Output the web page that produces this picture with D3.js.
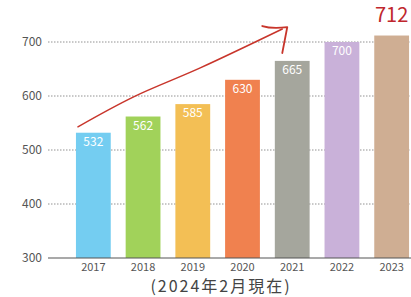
<!DOCTYPE html>
<html><head><meta charset="utf-8">
<script src="https://cdn.jsdelivr.net/npm/d3@7"></script>
<style>body{margin:0;background:#fff}svg{display:block}</style>
</head><body>
<svg id="c" width="411" height="297"></svg>
<script>
const years = ["2017","2018","2019","2020","2021","2022","2023"];
const values = [532, 562, 585, 630, 665, 700, 712];
const colors = ["#74cdf1","#a1d25a","#f3bf55","#f0814f","#a5a69d","#c9b1d9","#cfae93"];
const yTicks = [300, 400, 500, 600, 700];
const caption = "(2024年2月現在)";
// hand-drawn trend arrow, in data terms: [band position from first bar centre, value]
const arrowLine = [[-0.31,543],[0.8,598],[2.15,652],[3.8,724]];

const svg = d3.select("#c");
const font = "'Noto Sans CJK JP','Noto Sans',sans-serif";
const x = d3.scaleBand().domain(years).range([66, 419]).paddingInner(0.3).paddingOuter(0.2);
const y = d3.scaleLinear().domain([300, 700]).range([258, 42]);

// gridlines
svg.append("g").selectAll("line").data(yTicks.filter(t => t > 300)).join("line")
  .attr("x1", 48).attr("x2", 411).attr("y1", d => y(d)).attr("y2", d => y(d))
  .attr("stroke", "#777").attr("stroke-width", 0.8).attr("stroke-dasharray", "1.5,1.5");

// y labels
svg.append("g").selectAll("text").data(yTicks).join("text")
  .attr("x", 42).attr("y", d => y(d) + 4).attr("text-anchor", "end")
  .attr("font-family", font).attr("font-size", 12).attr("fill", "#555").text(d => d);

// bars
svg.append("g").selectAll("rect").data(values).join("rect")
  .attr("x", (d, i) => x(years[i])).attr("width", x.bandwidth())
  .attr("y", d => y(d)).attr("height", d => y(300) - y(d))
  .attr("fill", (d, i) => colors[i]);

// baseline
svg.append("line").attr("x1", 48).attr("x2", 411).attr("y1", y(300)).attr("y2", y(300))
  .attr("stroke", "#555").attr("stroke-width", 1.2);

// value labels
svg.append("g").selectAll("text").data(values.slice(0, 6)).join("text")
  .attr("x", (d, i) => x(years[i]) + x.bandwidth() / 2).attr("y", d => y(d) + 13)
  .attr("text-anchor", "middle").attr("font-family", font).attr("font-size", 12)
  .attr("fill", "#fff").text(d => d);
const last = values.length - 1;
svg.append("text").attr("x", x(years[last]) + x.bandwidth() / 2).attr("y", 22)
  .attr("text-anchor", "middle").attr("font-family", font).attr("font-size", 20)
  .attr("fill", "#c0272d").text(values[last]);

// year labels
svg.append("g").selectAll("text").data(years).join("text")
  .attr("x", d => x(d) + x.bandwidth() / 2).attr("y", 271)
  .attr("text-anchor", "middle").attr("font-family", font).attr("font-size", 11)
  .attr("fill", "#555").text(d => d);

// caption
svg.append("text").attr("x", 221).attr("y", 292).attr("text-anchor", "middle")
  .attr("font-family", font).attr("font-size", 16).attr("letter-spacing", 2)
  .attr("fill", "#444").text(caption);

// trend arrow
const ax = v => x(years[0]) + x.bandwidth() / 2 + v * x.step();
const line = d3.line().x(d => ax(d[0])).y(d => y(d[1])).curve(d3.curveCatmullRom);
svg.append("path").attr("d", line(arrowLine)).attr("fill", "none")
  .attr("stroke", "#c8352b").attr("stroke-width", 1.5).attr("stroke-linecap", "round");
const tip = arrowLine[arrowLine.length - 1];
const tx = ax(tip[0]), ty = y(tip[1]);
svg.append("path")
  .attr("d", `M${tx-20},${ty-3} Q${tx-10},${ty} ${tx+5},${ty-2} L${tx},${ty+24}`)
  .attr("fill", "none").attr("stroke", "#c8352b").attr("stroke-width", 1.8)
  .attr("stroke-linecap", "round").attr("stroke-linejoin", "round");
</script>
</body></html>
